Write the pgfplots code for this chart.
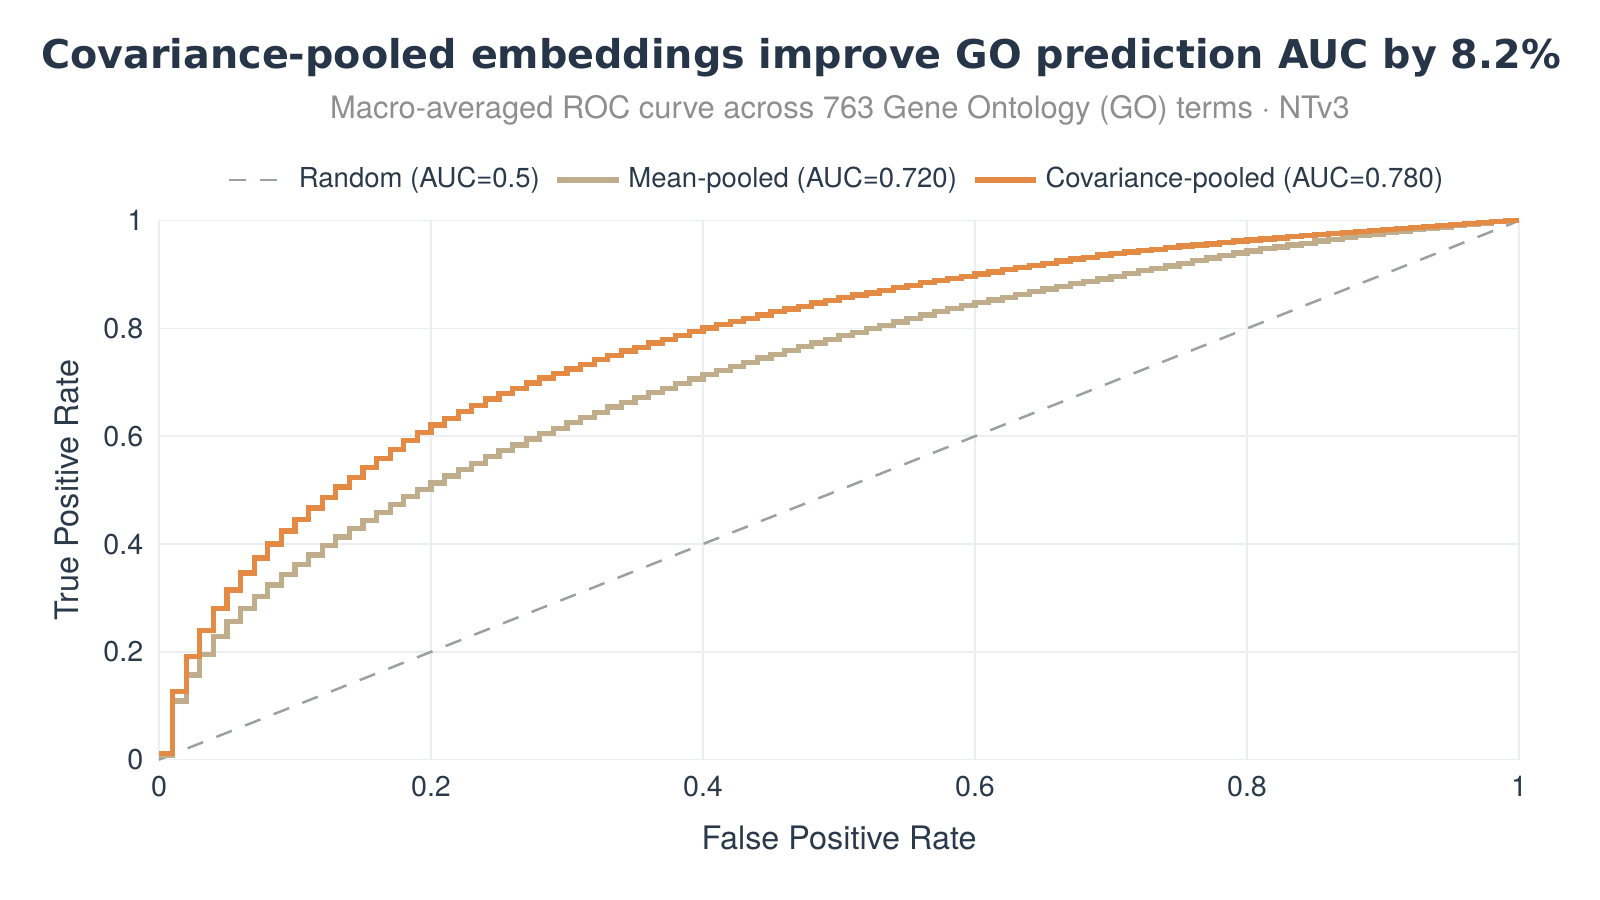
\documentclass[border=0pt]{standalone}
\usepackage{fontspec}
\setmainfont{TeX Gyre Heros}
\newfontfamily\titlefont{DejaVu Sans}
\usepackage{pgfplots}
\usepackage{pgfplotstable}
\pgfplotsset{compat=1.18}

\definecolor{titleink}{HTML}{263547}
\definecolor{ink}{HTML}{2B3A4B}
\definecolor{subgray}{HTML}{8E8E8E}
\definecolor{gridc}{HTML}{ECEFF2}
\definecolor{randc}{HTML}{9AA29E}
\definecolor{meanc}{HTML}{C0AD8B}
\definecolor{covc}{HTML}{E38B45}

% segment levels of the two ROC step curves (FPR step 0.01)
\pgfplotstableread{
x mean cov
0.00 0.008 0.012
0.01 0.109 0.127
0.02 0.157 0.192
0.03 0.195 0.240
0.04 0.228 0.280
0.05 0.256 0.315
0.06 0.281 0.346
0.07 0.303 0.374
0.08 0.324 0.400
0.09 0.343 0.424
0.10 0.362 0.446
0.11 0.380 0.467
0.12 0.397 0.487
0.13 0.413 0.506
0.14 0.429 0.524
0.15 0.444 0.542
0.16 0.459 0.559
0.17 0.474 0.576
0.18 0.488 0.592
0.19 0.501 0.607
0.20 0.513 0.621
0.21 0.526 0.633
0.22 0.538 0.646
0.23 0.550 0.657
0.24 0.562 0.669
0.25 0.573 0.679
0.26 0.584 0.689
0.27 0.595 0.699
0.28 0.605 0.708
0.29 0.615 0.716
0.30 0.625 0.725
0.31 0.635 0.733
0.32 0.644 0.742
0.33 0.654 0.750
0.34 0.663 0.758
0.35 0.672 0.765
0.36 0.681 0.773
0.37 0.689 0.780
0.38 0.698 0.787
0.39 0.706 0.794
0.40 0.714 0.801
0.41 0.722 0.807
0.42 0.730 0.813
0.43 0.737 0.819
0.44 0.745 0.825
0.45 0.752 0.831
0.46 0.759 0.836
0.47 0.766 0.841
0.48 0.773 0.847
0.49 0.780 0.852
0.50 0.787 0.857
0.51 0.793 0.862
0.52 0.800 0.866
0.53 0.806 0.871
0.54 0.812 0.876
0.55 0.818 0.880
0.56 0.825 0.885
0.57 0.831 0.889
0.58 0.837 0.893
0.59 0.843 0.897
0.60 0.848 0.901
0.61 0.853 0.905
0.62 0.858 0.909
0.63 0.863 0.913
0.64 0.868 0.917
0.65 0.873 0.921
0.66 0.878 0.925
0.67 0.883 0.929
0.68 0.887 0.932
0.69 0.892 0.936
0.70 0.897 0.939
0.71 0.902 0.942
0.72 0.907 0.945
0.73 0.911 0.947
0.74 0.916 0.950
0.75 0.921 0.953
0.76 0.926 0.955
0.77 0.931 0.957
0.78 0.935 0.960
0.79 0.940 0.962
0.80 0.944 0.964
0.81 0.948 0.966
0.82 0.951 0.968
0.83 0.955 0.970
0.84 0.958 0.972
0.85 0.962 0.974
0.86 0.965 0.976
0.87 0.969 0.978
0.88 0.972 0.980
0.89 0.975 0.982
0.90 0.978 0.984
0.91 0.981 0.986
0.92 0.983 0.987
0.93 0.986 0.989
0.94 0.988 0.991
0.95 0.991 0.993
0.96 0.993 0.995
0.97 0.995 0.996
0.98 0.998 0.998
0.99 1.000 1.000
1.00 1.000 1.000
}\roc

\begin{document}
\begin{tikzpicture}
\path[use as bounding box] (-47.7pt,-42.1pt) rectangle (432.3pt,227.9pt);
\node[anchor=base, font=\titlefont\fontsize{11.9}{14}\selectfont\bfseries, text=titleink]
  at (192.6pt,207.4pt) {Covariance-pooled embeddings improve GO prediction AUC by 8.2\%};
\node[anchor=base, font=\fontsize{9.27}{11}\selectfont, text=subgray]
  at (204.3pt,192.4pt) {Macro-averaged ROC curve across 763 Gene Ontology (GO) terms · NTv3};
\begin{axis}[
    scale only axis,
    width=408pt, height=161.7pt,
    xmin=0, xmax=1, ymin=0, ymax=1,
    clip=false,
    axis line style={draw=none},
    tick style={draw=none},
    grid=major,
    major grid style={gridc, line width=0.5pt},
    xtick={0,0.2,0.4,0.6,0.8,1},
    ytick={0,0.2,0.4,0.6,0.8,1},
    ticklabel style={font=\fontsize{8.6}{10}\selectfont, text=ink},
    /pgf/number format/assume math mode=true,
    xticklabel style={yshift=-1.5pt},
    yticklabel style={xshift=-1.2pt},
    xlabel={False Positive Rate},
    ylabel={True Positive Rate},
    every axis x label/.style={at={(axis description cs:0.5,-0.145)}, anchor=center,
      font=\fontsize{9.7}{11}\selectfont, text=ink},
    every axis y label/.style={at={(axis description cs:-0.0676,0.5)}, anchor=center,
      rotate=90, font=\fontsize{9.7}{11}\selectfont, text=ink},
    legend style={at={(axis description cs:0.5,1.0753)}, anchor=center,
      draw=none, fill=none, font=\fontsize{8.25}{10}\selectfont, text=ink,
      legend columns=3,
      /tikz/every even column/.append style={column sep=2.5pt}},
    legend image code/.code={\draw[#1] (0pt,0pt) -- (18.5pt,0pt);},
]
\addplot[randc, line width=0.75pt, dash pattern=on 5pt off 4.25pt]
  coordinates {(0,0) (1,1)};
\addlegendentry{Random (AUC=0.5)}
\addplot[meanc, line width=1.6pt, const plot] table[x=x, y=mean] {\roc};
\addlegendentry{Mean-pooled (AUC=0.720)}
\addplot[covc, line width=1.6pt, const plot] table[x=x, y=cov] {\roc};
\addlegendentry{Covariance-pooled (AUC=0.780)}
\end{axis}
\end{tikzpicture}
\end{document}
